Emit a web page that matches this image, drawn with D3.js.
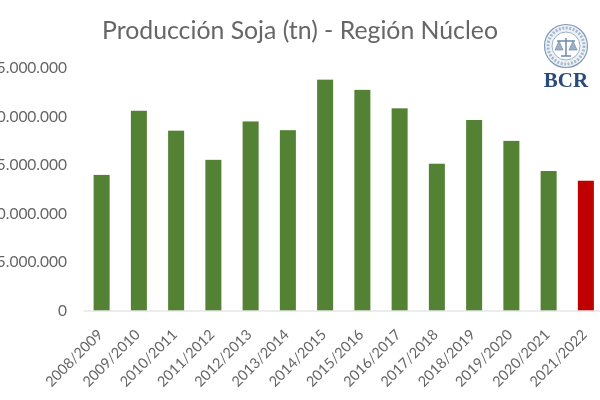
<!DOCTYPE html>
<html>
<head>
<meta charset="utf-8">
<script src="https://cdn.jsdelivr.net/npm/d3@7"></script>
<style>
	html, body { margin: 0; padding: 0; background: #fff; overflow: hidden; }
	text { font-family: Lato, "Open Sans", sans-serif; fill: #595959; }
	.viz { filter: blur(0.4px); }
</style>
</head>
<body>
<svg class="viz" width="600" height="400"></svg>
<script>
const campaigns = ["2008/2009", "2009/2010", "2010/2011", "2011/2012", "2012/2013", "2013/2014", "2014/2015",
	"2015/2016", "2016/2017", "2017/2018", "2018/2019", "2019/2020", "2020/2021", "2021/2022"];
const production = [13950000, 20550000, 18500000, 15500000, 19450000, 18550000, 23750000,
	22700000, 20800000, 15100000, 19600000, 17450000, 14350000, 13350000];
const yTicks = [0, 5000000, 10000000, 15000000, 20000000, 25000000];
const tickLabels = ["0", "5.000.000", "10.000.000", "15.000.000", "20.000.000", "25.000.000"];
const titleText = "Producción Soja (tn) - Región Núcleo";

function render() {
	let grph = d3.select(".viz");
	const greenBar = "#548235";
	const redBar = "#c00000";

	let x = d3.scaleBand().domain(campaigns).range([83, 604.5]).paddingInner(0.57).paddingOuter(0.285);
	let y = d3.scaleLinear().domain([0, 25000000]).range([310.5, 67.5]);

	// *** Bars ***
	grph.selectAll(".bar").data(production).enter().append("rect")
		.attr("class", "bar")
		.attr("x", (d, i) => x(campaigns[i]))
		.attr("y", (d) => y(d))
		.attr("width", x.bandwidth())
		.attr("height", (d) => y(0) - y(d))
		.attr("fill", (d, i) => (i === campaigns.length - 1) ? redBar : greenBar);

	// *** Axis y (labels only) ***
	let axisy = grph.append("g").attr("class", "axisy")
		.attr("transform", "translate(75, 0)")
		.call(d3.axisLeft(y).tickValues(yTicks).tickSize(0).tickPadding(8)
			.tickFormat((d, i) => tickLabels[i]));
	axisy.select(".domain").remove();
	axisy.selectAll("text").style("font-size", "15.5px").style("font-family", "Lato, sans-serif").style("fill", "#666");

	// *** Axis x ***
	let axisx = grph.append("g").attr("class", "axisx")
		.attr("transform", "translate(0, " + y(0) + ")")
		.call(d3.axisBottom(x).tickSize(0).tickPadding(0));
	axisx.select(".domain").attr("stroke", "#d9d9d9").attr("stroke-width", 1.2);
	axisx.selectAll("text")
		.style("font-size", "14.5px")
		.style("font-family", "Lato, sans-serif")
		.style("fill", "#666")
		.style("text-anchor", "end")
		.attr("dy", 0)
		.attr("transform", "translate(2, 25)rotate(-45)");

	grph.append("text")
		.attr("x", 300).attr("y", 39)
		.attr("text-anchor", "middle")
		.style("font-size", "24.8px")
		.style("fill", "#666")
		.text(titleText);

	drawLogo(grph);
}

function drawLogo(grph) {
	let logo = grph.append("g").attr("transform", "translate(566, 46)");
	logo.append("circle").attr("r", 21.5).attr("fill", "#eef2f6").attr("stroke", "#7f9ab8").attr("stroke-width", 1.2);
	logo.append("circle").attr("r", 14).attr("fill", "#fff").attr("stroke", "#9db2c8").attr("stroke-width", 1);
	logo.append("circle").attr("r", 18).attr("fill", "none").attr("stroke", "#a5b8cc").attr("stroke-width", 3).attr("stroke-dasharray", "2 1.5");
	// scales in the seal
	logo.append("path").attr("d", "M-9 -5H9M0 -8V10M-5 10H5").attr("stroke", "#6d8aa8").attr("stroke-width", 1.5).attr("fill", "none");
	logo.append("path").attr("d", "M-11 4L-7 -5L-3 4ZM3 4L7 -5L11 4Z").attr("fill", "#9db2c8").attr("stroke", "#6d8aa8").attr("stroke-width", 0.7);
	grph.append("text")
		.attr("x", 566).attr("y", 87)
		.attr("text-anchor", "middle")
		.style("font-family", "'Liberation Serif', serif")
		.style("font-size", "21px")
		.style("font-weight", "bold")
		.style("fill", "#2a4a7a")
		.text("BCR");
}

render();
</script>
</body>
</html>
